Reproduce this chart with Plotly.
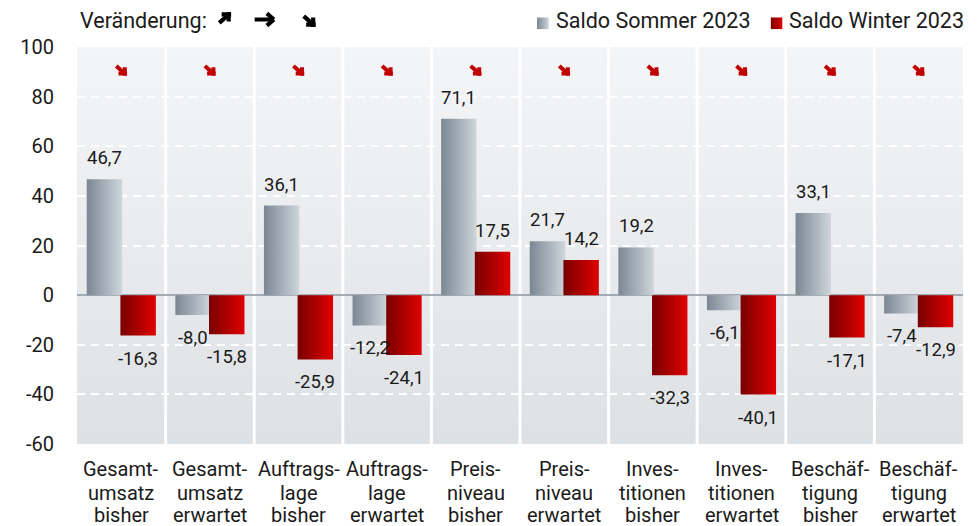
import base64
import plotly.graph_objects as go

# ---------------- data ----------------
categories = [
    ["Gesamt-", "umsatz", "bisher"], ["Gesamt-", "umsatz", "erwartet"],
    ["Auftrags-", "lage", "bisher"], ["Auftrags-", "lage", "erwartet"],
    ["Preis-", "niveau", "bisher"], ["Preis-", "niveau", "erwartet"],
    ["Inves-", "titionen", "bisher"], ["Inves-", "titionen", "erwartet"],
    ["Beschäf-", "tigung", "bisher"], ["Beschäf-", "tigung", "erwartet"],
]
sommer = [46.7, -8.0, 36.1, -12.2, 71.1, 21.7, 19.2, -6.1, 33.1, -7.4]
winter = [-16.3, -15.8, -25.9, -24.1, 17.5, 14.2, -32.3, -40.1, -17.1, -12.9]
trend = ["down"] * 10
y_ticks = [100, 80, 60, 40, 20, 0, -20, -40, -60]
series_names = ["Saldo Sommer 2023", "Saldo Winter 2023"]
legend_title = "Veränderung:"

# ---------------- style ----------------
FONT = "Roboto"
TXT = "#1a1a1a"
OFF = 8                       # page offset of the plot div (body margin)
W, H = 979 - OFF, 526 - OFF
ML, MT = 72 - OFF, 47 - OFF
PW, PH = 891, 397
MR, MB = W - ML - PW, H - MT - PH
GRAY = ["#7a8793", "#cfd6dc"]
RED = ["#780000", "#e00000"]
ARROW_RED = "#c00000"
BAR_W = 0.40
OFFS = [-0.19, 0.19]
YMIN, YMAX = y_ticks[-1], y_ticks[0]
n = len(categories)

# arrow glyph strokes: (start, end) in px relative to the tip, screen y downwards
ARROW_SEGS = {
    "down": [((-11, -10), (-3, -3)), ((-9, -2), (0, -2)), ((-2, -9), (-2, 0))],
    "up": [((-11, 10), (-3, 3)), ((-9, 2), (0, 2)), ((-2, 9), (-2, 0))],
    "flat": [((-17, 0), (-2, 0)), ((-7, -6), (0, 0)), ((-7, 6), (0, 0))],
}


def px_x(p):
    """page pixel x -> paper"""
    return (p - OFF - ML) / PW


def px_y(p):
    """page pixel y -> paper"""
    return (MT + PH - (p - OFF)) / PH


def svg_uri(svg):
    return "data:image/svg+xml;base64," + base64.b64encode(svg.encode()).decode()


# background panels (vertical gradient, white separators)
gap = 3.0 / PW * 1000
rects = []
for k in range(n):
    x0 = k * 100 + (gap / 2 if k > 0 else 0)
    x1 = (k + 1) * 100 - (gap / 2 if k < n - 1 else 0)
    rects.append(f'<rect x="{x0:.2f}" y="0" width="{x1 - x0:.2f}" height="1000" fill="url(#g)"/>')
bg_svg = (
    '<svg xmlns="http://www.w3.org/2000/svg" viewBox="0 0 1000 1000" preserveAspectRatio="none" '
    'width="1000" height="1000">'
    '<defs><linearGradient id="g" x1="0" y1="0" x2="0" y2="1">'
    '<stop offset="0" stop-color="#f4f5f7"/><stop offset="1" stop-color="#dee1e4"/>'
    '</linearGradient></defs>' + "".join(rects) + "</svg>"
)


def square_svg(c0, c1):
    return (
        '<svg xmlns="http://www.w3.org/2000/svg" viewBox="0 0 10 10" preserveAspectRatio="none" width="10" height="10">'
        f'<defs><linearGradient id="q" x1="0" y1="0" x2="1" y2="0"><stop offset="0" stop-color="{c0}"/>'
        f'<stop offset="1" stop-color="{c1}"/></linearGradient></defs>'
        '<rect x="0" y="0" width="10" height="10" fill="url(#q)"/></svg>'
    )


fig = go.Figure()

# bars as gradient-filled polygons
for s_idx, (vals, cols) in enumerate([(sommer, GRAY), (winter, RED)]):
    for i, v in enumerate(vals):
        x0 = i + OFFS[s_idx] - BAR_W / 2
        x1 = i + OFFS[s_idx] + BAR_W / 2
        fig.add_trace(go.Scatter(
            x=[x0, x1, x1, x0, x0], y=[0, 0, v, v, 0],
            mode="lines", fill="toself", line=dict(width=0),
            fillgradient=dict(type="horizontal", colorscale=[[0, cols[0]], [1, cols[1]]]),
            name=series_names[s_idx], showlegend=False, hoverinfo="skip",
        ))

annotations = []
# value labels
for s_idx, vals in enumerate([sommer, winter]):
    for i, v in enumerate(vals):
        annotations.append(dict(
            x=i + OFFS[s_idx], y=v, xref="x", yref="y",
            text=f"{v:.1f}".replace(".", ","), showarrow=False,
            yanchor="middle", xanchor="center",
            yshift=21 if v >= 0 else -23,
            font=dict(family=FONT, size=18.5, color=TXT),
        ))
# category labels (three lines each)
line_y = [469.5, 492.5, 515]
for i, lines in enumerate(categories):
    for ln, ypix in zip(lines, line_y):
        annotations.append(dict(
            x=i, y=px_y(ypix), xref="x", yref="paper", text=ln, showarrow=False,
            xanchor="center", yanchor="middle", borderpad=0,
            font=dict(family=FONT, size=20, color=TXT),
        ))


def arrow(x, y, xref, yref, kind, color, scale=1.0, width=3.6):
    out = []
    for (sx, sy), (ex, ey) in ARROW_SEGS[kind]:
        sx, sy, ex, ey = sx * scale, sy * scale, ex * scale, ey * scale
        out.append(dict(
            x=x, y=y, xref=xref, yref=yref, text="", showarrow=True,
            xshift=ex, yshift=-ey, ax=sx - ex, ay=sy - ey, axref="pixel", ayref="pixel",
            arrowhead=0, arrowwidth=width, arrowcolor=color, standoff=0, startstandoff=0,
        ))
    return out


# trend arrows above each category
for i, t in enumerate(trend):
    annotations += arrow(i + 0.065, 88.4, "x", "y", t, ARROW_RED, scale=1.12, width=4)
# header
annotations.append(dict(
    x=px_x(73), y=px_y(21), xref="paper", yref="paper", xanchor="left", yanchor="middle",
    text=legend_title, showarrow=False, font=dict(family=FONT, size=21.5, color=TXT),
))
for tip, key in [((227, 12), "up"), ((270, 19.5), "flat"), ((312, 27), "down")]:
    annotations += arrow(px_x(tip[0]), px_y(tip[1]), "paper", "paper", key, "#000000", scale=1.22, width=4.2)

# legend
images = [dict(
    source=svg_uri(bg_svg), xref="x", yref="y", x=-0.5, y=YMAX, sizex=n, sizey=YMAX - YMIN,
    sizing="stretch", layer="below", xanchor="left", yanchor="top",
)]
for (sq_x, tx_x), name, cols in [((534.5, 551.5), series_names[0], GRAY), ((769.5, 786.5), series_names[1], RED)]:
    images.append(dict(
        source=svg_uri(square_svg(*cols)), xref="paper", yref="paper",
        x=px_x(sq_x), y=px_y(17.3), sizex=12 / PW, sizey=12 / PH,
        sizing="stretch", layer="above", xanchor="left", yanchor="top",
    ))
    annotations.append(dict(
        x=px_x(tx_x), y=px_y(21), xref="paper", yref="paper", xanchor="left", yanchor="middle",
        text=name, showarrow=False, font=dict(family=FONT, size=21.5, color=TXT),
    ))

fig.update_layout(
    width=W, height=H, margin=dict(l=ML, r=MR, t=MT, b=MB),
    paper_bgcolor="white", plot_bgcolor="white",
    showlegend=False,
    font=dict(family=FONT, size=18, color=TXT),
    annotations=annotations, images=images,
    xaxis=dict(
        range=[-0.5, n - 0.5], tickvals=list(range(n)), showticklabels=False,
        showgrid=False, zeroline=False, showline=False, ticks="", fixedrange=True,
    ),
    yaxis=dict(
        range=[YMIN, YMAX], tickvals=y_ticks, ticktext=[str(t) for t in y_ticks],
        showgrid=True, gridcolor="white", gridwidth=2, griddash="8px,6px",
        zeroline=True, zerolinecolor="#a2abb3", zerolinewidth=2,
        showline=False, ticks="", ticklabelstandoff=22,
        tickfont=dict(family=FONT, size=20, color=TXT), fixedrange=True,
    ),
)

fig.write_html("out.html")
